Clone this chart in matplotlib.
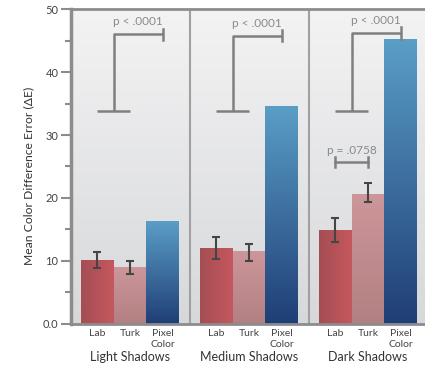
import numpy as np
import matplotlib
matplotlib.use("Agg")
import matplotlib.pyplot as plt
from matplotlib.colors import LinearSegmentedColormap
from matplotlib.transforms import blended_transform_factory

plt.rcParams['font.family'] = ['Lato', 'DejaVu Sans']

groups = ['Light Shadows', 'Medium Shadows', 'Dark Shadows']
methods = ['Lab', 'Turk', 'Pixel\nColor']
means = {
    'Lab':   [10.1, 12.0, 14.9],
    'Turk':  [9.0, 11.6, 20.6],
    'Pixel': [16.3, 34.5, 45.3],
}
err_lo = {'Lab': [8.8, 10.3, 13.0], 'Turk': [7.9, 10.0, 19.3]}
err_hi = {'Lab': [11.4, 13.8, 16.8], 'Turk': [10.0, 12.6, 22.3]}
# significance brackets: (group, low y, high y, label)
sig = [(0, 33.8, 46.0, 'p < .0001'), (1, 33.8, 45.8, 'p < .0001'), (2, 33.8, 46.2, 'p < .0001')]
sig_small = (2, 25.7, 'p = .0758')

offsets = [0.22, 0.495, 0.77]
width = 0.275

fig = plt.figure(figsize=(4.25, 3.68), dpi=100)
ax = fig.add_axes([71 / 425, 44.3 / 368, 357 / 425, 314.5 / 368])
ax.set_xlim(0, 3)
ax.set_ylim(0, 50)

# background gradient
bg = LinearSegmentedColormap.from_list('bg', ['#d7d8da', '#f3f3f4'])
ax.imshow(np.linspace(0, 1, 256).reshape(-1, 1), extent=[0, 3, 0, 50], origin='lower',
          aspect='auto', cmap=bg, zorder=0)

cm_lab = LinearSegmentedColormap.from_list('lab', ['#a44e54', '#c5585e'])
cm_turk = LinearSegmentedColormap.from_list('turk', ['#b28082', '#cd969a'])
cm_pix = LinearSegmentedColormap.from_list('pix', ['#1f3e76', '#5a9ec6'])

gx = np.arange(3)
keys = ['Lab', 'Turk', 'Pixel']
cmaps = [cm_lab, cm_turk, cm_pix]
for k, (key, cm) in enumerate(zip(keys, cmaps)):
    bars = ax.bar(gx + offsets[k], means[key], width=width, color='none', zorder=2)
    for b in bars:
        x0, w, h = b.get_x(), b.get_width(), b.get_height()
        if key == 'Lab':
            grad = np.linspace(0, 1, 64).reshape(1, -1)
        else:
            grad = np.linspace(0, 1, 256).reshape(-1, 1)
        ax.imshow(grad, extent=[x0, x0 + w, 0, h], origin='lower', aspect='auto',
                  cmap=cm, zorder=2)
    if key in err_lo:
        m = np.array(means[key])
        lo = m - np.array(err_lo[key])
        hi = np.array(err_hi[key]) - m
        ax.errorbar(gx + offsets[k], m, yerr=[lo, hi], fmt='none', ecolor='#454545',
                    elinewidth=1.5, capsize=3, capthick=1.5, zorder=3)

# significance brackets
bc = '#7f7f7f'
for g, ylo, yhi, lab in sig:
    xl, xt, xp = g + offsets[0], g + offsets[1], g + offsets[2]
    xm = (xl + xt) / 2
    ax.plot([xl, xt], [ylo, ylo], color=bc, lw=1.8, zorder=4, solid_capstyle='butt')
    ax.plot([xm, xm, xp], [ylo, yhi, yhi], color=bc, lw=1.8, zorder=4, solid_capstyle='butt')
    ax.plot([xp, xp], [yhi - 0.9, yhi + 0.9], color=bc, lw=1.8, zorder=4)
    ax.text((xm + xp) / 2, yhi + 1.1, lab, ha='center', va='bottom', fontsize=8.5,
            color='#8a8a8a', zorder=4)

g, ys, lab = sig_small
xl, xt = g + offsets[0], g + offsets[1]
ax.plot([xl, xt], [ys, ys], color=bc, lw=1.8, zorder=4)
for xx in (xl, xt):
    ax.plot([xx, xx], [ys - 0.8, ys + 0.8], color=bc, lw=1.8, zorder=4)
ax.text((xl + xt) / 2, ys + 1.0, lab, ha='center', va='bottom', fontsize=8.5,
        color='#8a8a8a', zorder=4)

# panel dividers
for xd in (1, 2):
    ax.axvline(xd, color='#a0a0a0', lw=1.5, zorder=1)

ax.spines['right'].set_visible(False)
ax.spines['left'].set_color('#8c8c8c')
ax.spines['left'].set_linewidth(2.5)
ax.spines['bottom'].set_color('#8c8c8c')
ax.spines['bottom'].set_linewidth(2.0)
ax.spines['top'].set_color('#8c8c8c')
ax.spines['top'].set_linewidth(2.0)

ax.set_yticks([0, 10, 20, 30, 40, 50])
ax.set_yticklabels(['0.0', '10', '20', '30', '40', '50'])
ax.set_yticks([5, 15, 25, 35, 45], minor=True)
ax.tick_params(axis='y', which='major', length=7, width=1.5, color='#8c8c8c',
               labelsize=8, labelcolor='#444444', pad=2)
ax.tick_params(axis='y', which='minor', length=4, width=1.5, color='#8c8c8c')

ticks = [g + o for g in gx for o in offsets]
ax.set_xticks(ticks)
ax.set_xticklabels(methods * 3, fontsize=7.5, color='#444444', linespacing=1.2, va='top')
ax.tick_params(axis='x', length=0, pad=4)

tr = blended_transform_factory(ax.transData, ax.transAxes)
for g, name in zip(gx, groups):
    ax.text(g + 0.495, -0.088, name, transform=tr, ha='center', va='top',
            fontsize=9, color='#333333')

ax.set_ylabel('Mean Color Difference Error (\u0394E)', fontsize=8.7, color='#333333')
ax.yaxis.set_label_coords(-0.104, 0.47)

fig.savefig('out.png', dpi=100)
